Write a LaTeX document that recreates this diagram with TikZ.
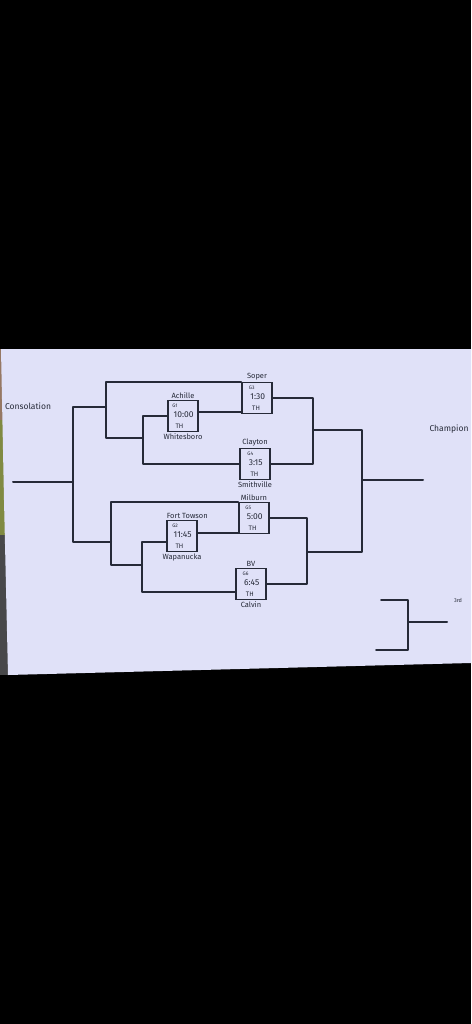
\documentclass[tikz,border=0pt]{standalone}
\usepackage{fontspec}
\setsansfont{Fira Sans}
\usepackage{xcolor}
\usepackage{tikz}
\usetikzlibrary{positioning, calc}
\definecolor{ink}{RGB}{38, 42, 56}
\definecolor{board}{RGB}{224, 225, 248}
\definecolor{grass}{RGB}{128, 138, 66}
\definecolor{gravel}{RGB}{72, 72, 74}
\definecolor{soil}{RGB}{150, 120, 100}
\tikzset{
  font=\sffamily,
  gamebox/.style={
    rectangle, draw=ink, line width=1.8pt,
    minimum width=30pt, minimum height=31pt,
    inner sep=1.2pt, align=left, text=ink
  },
  teamlabel/.style={font=\sffamily\fontsize{7.5}{8}\selectfont, text=ink, inner sep=0.5pt},
  boardtext/.style={font=\sffamily\fontsize{8.5}{9}\selectfont, text=ink, inner sep=0pt},
  bracketline/.style={draw=ink, line width=2pt, line join=round, line cap=round}
}
\newcommand{\gameinfo}[2]{{\fontsize{5}{5}\selectfont #1}\\[-1.5pt]{\fontsize{8.5}{9}\selectfont\,#2}\\[-1.5pt]{\fontsize{6.5}{7}\selectfont\enspace TH}}

\begin{document}
\begin{tikzpicture}[x=1pt, y=-1pt]
  % backdrop and board
  \fill[black] (0,0) rectangle (471,1024);
  \fill[soil] (0,349) rectangle (8,420);
  \fill[grass] (0,420) rectangle (8,535);
  \fill[gravel] (0,535) rectangle (8,675);
  \fill[board] (1,349) -- (471,349) -- (471,663) -- (8,675) -- (4,500) -- cycle;

  % games
  \node[gamebox] (g1) at (183,416) {\gameinfo{G1}{10:00}};
  \node[gamebox] (g2) at (182,536) {\gameinfo{G2}{11:45}};
  \node[gamebox] (g3) at (257,398) {\gameinfo{G3}{1:30}};
  \node[gamebox] (g4) at (255,464) {\gameinfo{G4}{3:15}};
  \node[gamebox] (g5) at (254,518) {\gameinfo{G5}{5:00}};
  \node[gamebox] (g6) at (251,584) {\gameinfo{G6}{6:45}};

  % teams
  \node[teamlabel, above=0.5pt of g1] (achille) {Achille};
  \node[teamlabel, below=1pt of g1] (whitesboro) {Whitesboro};
  \node[teamlabel, above=0.5pt of g3] (soper) {Soper};
  \node[teamlabel, above=0.5pt of g4] (clayton) {Clayton};
  \node[teamlabel, below=1pt of g4] (smithville) {Smithville};
  \node[teamlabel, above=0.5pt of g5] (milburn) {Milburn};
  \node[teamlabel, anchor=south west] (forttowson) at ([yshift=0.5pt]g2.north west) {Fort Towson};
  \node[teamlabel, below=1pt of g2] (wapanucka) {Wapanucka};
  \node[teamlabel, above=0.5pt of g6] (bv) {BV};
  \node[teamlabel, below=1pt of g6] (calvin) {Calvin};

  \node[boardtext] (consolation) at (28,406) {Consolation};
  \node[boardtext] (champion) at (449,429) {Champion};
  \node[boardtext, font=\sffamily\fontsize{5.5}{6}\selectfont] (third) at (458,600) {3rd};

  % joints
  \coordinate (ulj) at (106,407);
  \coordinate (ulmid) at (143,438);
  \coordinate (llj) at (111,542);
  \coordinate (llmid) at (142,565);
  \coordinate (cons) at (73,482);
  \coordinate (consend) at (13,482);
  \coordinate (wu) at (313,430);
  \coordinate (wl) at (307,552);
  \coordinate (fin) at (362,480);
  \coordinate (champ) at (423,480);
  \coordinate (t1) at (381,600);
  \coordinate (tj) at (408,622);
  \coordinate (t2) at (376,650);
  \coordinate (t3) at (447,622);
  \coordinate (g1out) at ([yshift=4pt]g1.east);
  \coordinate (g2out) at ([yshift=3pt]g2.east);
  \coordinate (g2in) at ([yshift=-6pt]g2.west);
  \coordinate (g6in) at ([yshift=-8pt]g6.west);

  % upper half
  \draw[bracketline] (g3.north west) -| (ulj) |- (ulmid);
  \draw[bracketline] (g1.west) -| (ulmid) |- (g4.west);
  \draw[bracketline] (g1out) -- (g1out -| g3.west);
  \draw[bracketline] (g3.east) -| (wu) |- (g4.east);

  % lower half
  \draw[bracketline] (g5.north west) -| (llj) |- (llmid);
  \draw[bracketline] (g2in) -| (llmid) |- (g6in);
  \draw[bracketline] (g2out) -- (g2out -| g5.west);
  \draw[bracketline] (g5.east) -| (wl) |- (g6.east);

  % consolation and final
  \draw[bracketline] (ulj) -- (ulj -| cons) -- (llj -| cons) -- (llj);
  \draw[bracketline] (cons) -- (consend);
  \draw[bracketline] (wu) -| (fin);
  \draw[bracketline] (wl) -| (fin);
  \draw[bracketline] (fin) -- (champ);

  % 3rd place
  \draw[bracketline] (t1) -| (tj) |- (t2);
  \draw[bracketline] (tj) -- (t3);
\end{tikzpicture}
\end{document}
